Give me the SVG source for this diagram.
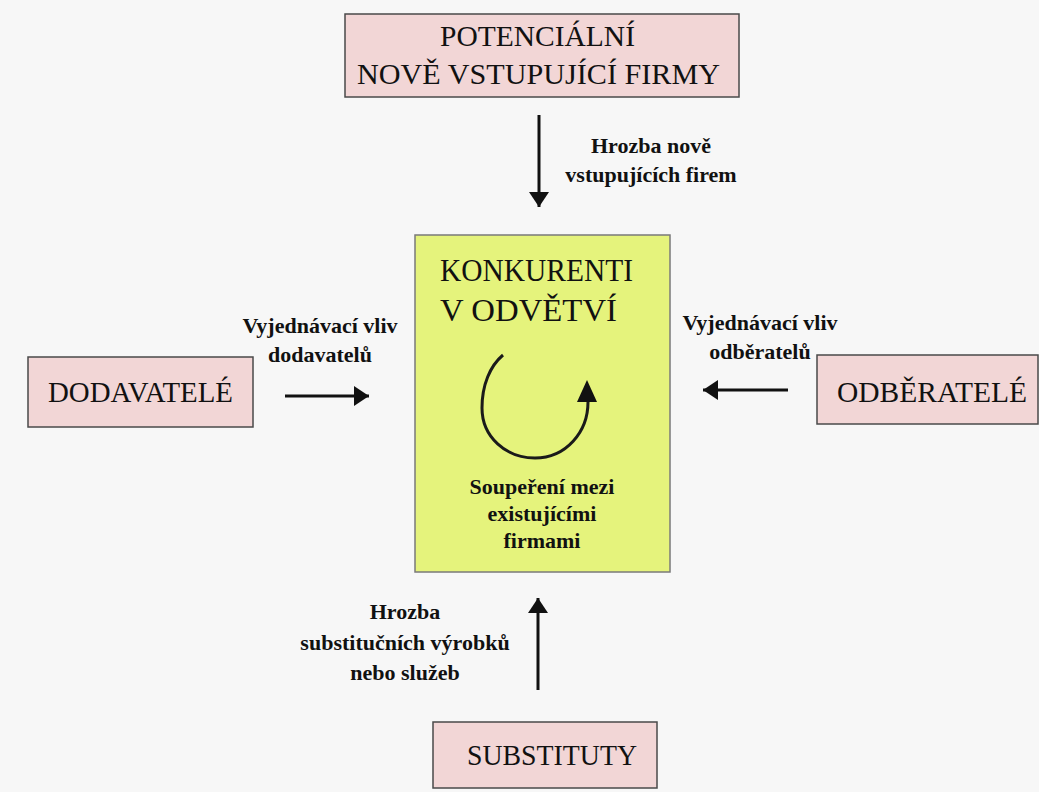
<svg xmlns="http://www.w3.org/2000/svg" width="1039" height="792" viewBox="0 0 1039 792">
<style>
.box{fill:#f2d6d6;stroke:#4a4a4a;stroke-width:1.5}
.core{fill:#e5f37c;stroke:#7a7a7a;stroke-width:1.5}
.big{font-family:"Liberation Serif","Times New Roman",serif;font-size:30px;fill:#111}
.lbl{font-family:"Liberation Serif","Times New Roman",serif;font-size:22px;font-weight:bold;fill:#111;text-anchor:middle}
.arr{stroke:#111;stroke-width:3;fill:none;marker-end:url(#ah)}
</style>
<defs>
<marker id="ah" markerWidth="18" markerHeight="22" refX="15" refY="10" orient="auto" markerUnits="userSpaceOnUse">
<path d="M0,0 L15,10 L0,20 Z" fill="#111"/>
</marker>
</defs>
<rect width="1039" height="792" fill="#f7f7f7"/>
<g id="potencialni">
<rect class="box" x="345" y="14" width="394" height="83"/>
<text class="big" x="440" y="46" textLength="195" lengthAdjust="spacingAndGlyphs">POTENCIÁLNÍ</text>
<text class="big" x="357" y="84" textLength="363" lengthAdjust="spacingAndGlyphs">NOVĚ VSTUPUJÍCÍ FIRMY</text>
</g>
<g id="konkurenti">
<rect class="core" x="415" y="235" width="255" height="337"/>
<text class="big" x="440" y="281" textLength="193" lengthAdjust="spacingAndGlyphs" style="font-size:32px">KONKURENTI</text>
<text class="big" x="440" y="321" textLength="177" lengthAdjust="spacingAndGlyphs" style="font-size:32px">V ODVĚTVÍ</text>
<path d="M503,355 C490,366 482,385 482,408 C482,437 506,458 535,458 C566,458 588,432 588,402" fill="none" stroke="#1a1a1a" stroke-width="3"/>
<path d="M577,402 L597,402 L587,380 Z" fill="#111"/>
<text class="lbl" x="542" y="494">Soupeření mezi</text>
<text class="lbl" x="542" y="521">existujícími</text>
<text class="lbl" x="542" y="548">firmami</text>
</g>
<g id="dodavatele">
<rect class="box" x="28" y="357" width="225" height="70"/>
<text class="big" x="48" y="402" textLength="185" lengthAdjust="spacingAndGlyphs">DODAVATELÉ</text>
</g>
<g id="odberatele">
<rect class="box" x="817" y="355" width="221" height="69"/>
<text class="big" x="837" y="402" textLength="190" lengthAdjust="spacingAndGlyphs">ODBĚRATELÉ</text>
</g>
<g id="substituty">
<rect class="box" x="433" y="722" width="224" height="66"/>
<text class="big" x="467" y="765" textLength="170" lengthAdjust="spacingAndGlyphs">SUBSTITUTY</text>
</g>
<g id="connectors">
<line class="arr" x1="539" y1="115" x2="539" y2="207"/>
<line class="arr" x1="285" y1="396" x2="369" y2="396"/>
<line class="arr" x1="788" y1="390" x2="703" y2="390"/>
<line class="arr" x1="538" y1="690" x2="538" y2="598"/>
</g>
<g id="labels">
<text class="lbl" x="651" y="153">Hrozba nově</text>
<text class="lbl" x="651" y="182">vstupujících firem</text>
<text class="lbl" x="320" y="333">Vyjednávací vliv</text>
<text class="lbl" x="320" y="362">dodavatelů</text>
<text class="lbl" x="760" y="330">Vyjednávací vliv</text>
<text class="lbl" x="760" y="359">odběratelů</text>
<text class="lbl" x="405" y="619">Hrozba</text>
<text class="lbl" x="405" y="650">substitučních výrobků</text>
<text class="lbl" x="405" y="680">nebo služeb</text>
</g>
</svg>
